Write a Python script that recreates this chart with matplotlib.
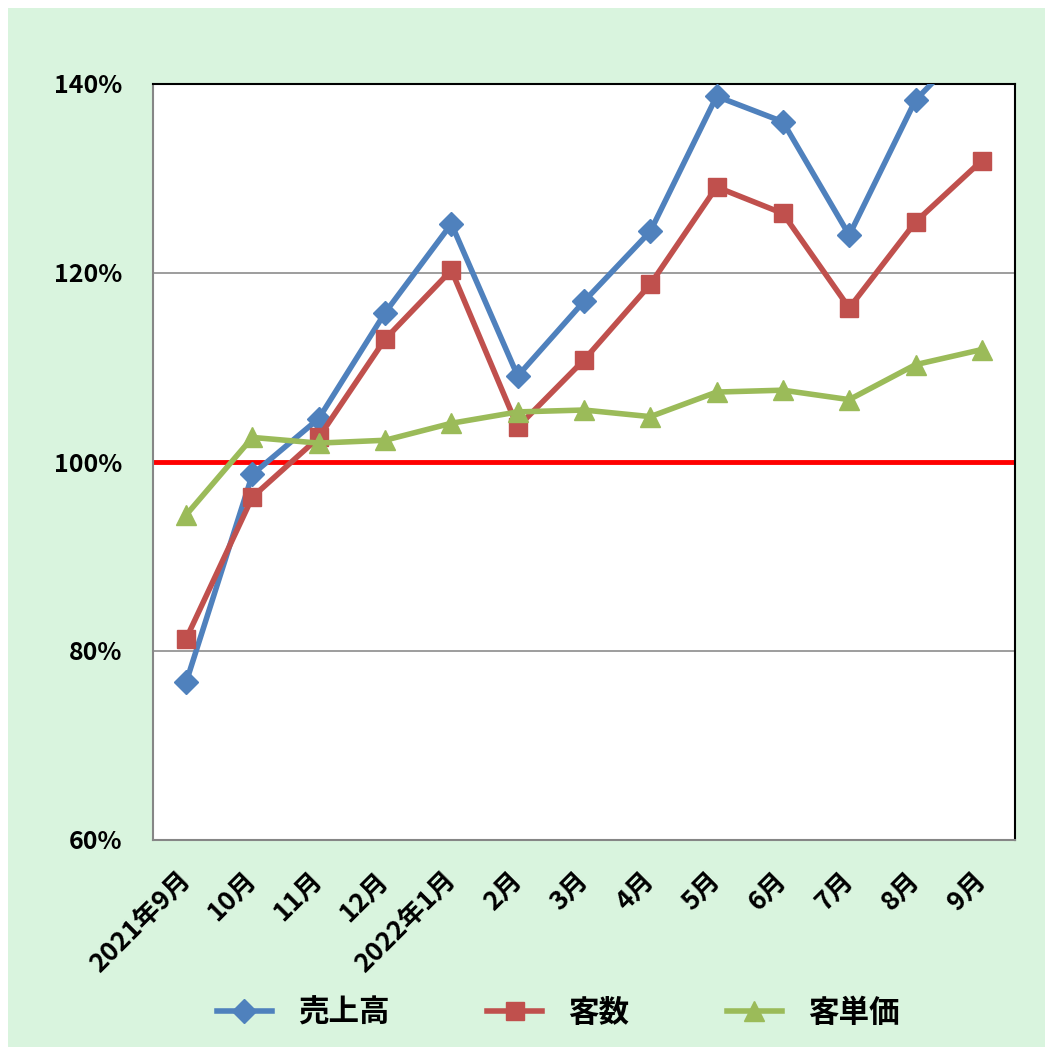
import matplotlib
matplotlib.use('Agg')
import matplotlib.pyplot as plt
from matplotlib.patches import Rectangle

plt.rcParams['font.family'] = ['Noto Sans CJK JP', 'DejaVu Sans']

labels = ['2021年9月', '10月', '11月', '12月', '2022年1月', '2月', '3月',
          '4月', '5月', '6月', '7月', '8月', '9月']

# percent values
sales = [76.7, 98.7, 104.6, 115.8, 125.2, 109.1, 117.0, 124.4, 138.7, 136.0, 124.0, 138.3, 145.5]
customers = [81.3, 96.3, 102.6, 113.0, 120.3, 103.7, 110.8, 118.8, 129.1, 126.3, 116.3, 125.4, 131.9]
unit_price = [94.4, 102.6, 102.0, 102.3, 104.1, 105.3, 105.5, 104.8, 107.4, 107.6, 106.6, 110.3, 111.9]

series_names = ['売上高', '客数', '客単価']
colors = ['#4F81BD', '#C0504D', '#9BBB59']
markers = ['D', 's', '^']
yticks = [60, 80, 100, 120, 140]

fig = plt.figure(figsize=(10.53, 10.47), dpi=100, facecolor='white')
fig.patches.append(Rectangle((8 / 1053, 0), 1037 / 1053, 1039 / 1047,
                             transform=fig.transFigure, facecolor='#D9F4DE',
                             edgecolor='none', zorder=-10))

ax = fig.add_axes([153 / 1053, 207 / 1047, 862 / 1053, 756 / 1047])
ax.set_facecolor('white')

x = list(range(len(labels)))
sizes = {'D': 12, 's': 13, '^': 14}
for vals, name, c, m in zip([sales, customers, unit_price], series_names, colors, markers):
    ax.plot(x, vals, color=c, lw=4, marker=m, markersize=sizes[m], label=name,
            solid_joinstyle='miter', zorder=3)

ax.axhline(100, color='#FF0000', lw=3.5, zorder=2)
for v in [80, 120]:
    ax.axhline(v, color='#8C8C8C', lw=1.2, zorder=1)

ax.set_xlim(-0.5, len(labels) - 0.5)
ax.set_ylim(60, 140)
ax.set_yticks(yticks)
ax.set_yticklabels([f'{v}%' for v in yticks], fontsize=18, fontweight='bold')
ax.set_xticks(x)
ax.set_xticklabels(labels, fontsize=19, fontweight='bold', rotation=45,
                   ha='right', va='center', rotation_mode='anchor')
ax.tick_params(axis='y', length=0, pad=22)
ax.tick_params(axis='x', length=0, pad=26)

for s in ['left', 'bottom']:
    ax.spines[s].set_color('#868686')
    ax.spines[s].set_linewidth(1.5)
for s in ['top', 'right']:
    ax.spines[s].set_color('black')
    ax.spines[s].set_linewidth(1.5)

leg = fig.legend(loc='center', bbox_to_anchor=(0.53, 34 / 1047), ncol=3,
                 frameon=False, prop={'size': 22, 'weight': 'bold'},
                 handlelength=1.8, columnspacing=3.2, handletextpad=0.85)

fig.savefig('out.png', dpi=100, facecolor=fig.get_facecolor())
